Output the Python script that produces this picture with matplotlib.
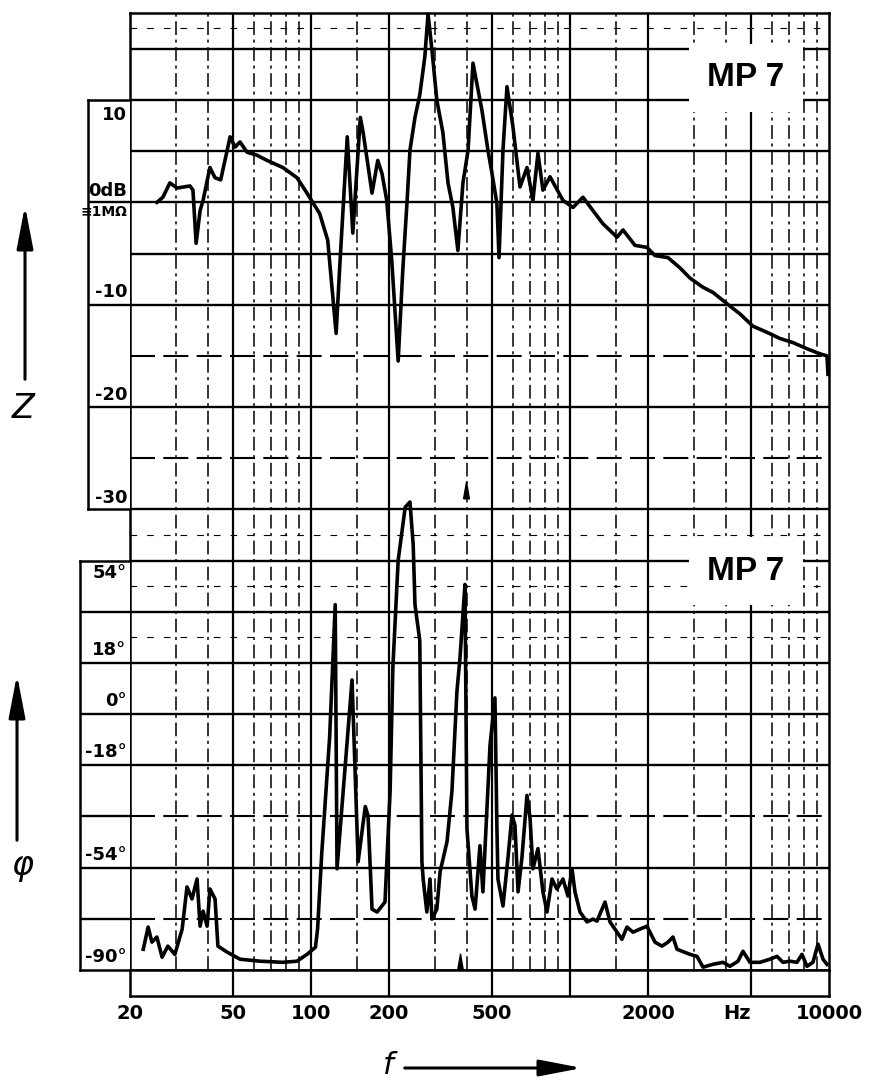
import matplotlib
matplotlib.use("Agg")
import matplotlib.pyplot as plt
from matplotlib.patches import FancyArrowPatch
from matplotlib.path import Path


# Impedanz |Z| in dB (0 dB = 1 MOhm)
z_freq = [25.4, 26.8, 28.5, 30.4, 34.1, 35.0, 36.0, 37.3, 38.3, 40.7,
          42.6, 44.8, 48.7, 50.9, 53.2, 56.6, 61.9, 67.6, 77.9, 88.3,
          96.5, 108, 116, 125, 129, 138, 145, 155, 159, 172,
          181, 188, 196, 205, 217, 226, 235, 241, 252, 263,
          275, 283, 293, 306, 323, 338, 353, 369, 386, 404,
          422, 457, 482, 500, 522, 532, 551, 571, 602, 641,
          682, 719, 752, 786, 837, 939, 1027, 1122, 1226, 1341,
          1519, 1602, 1782, 1982, 2128, 2390, 2658, 2906, 3262, 3565,
          4036, 4532, 5087, 5763, 6466, 7257, 8222, 9230, 9822, 9910]
z_db = [0.0, 0.5, 1.9, 1.4, 1.6, 1.2, -4.0, -0.8, 0.2, 3.4,
        2.4, 2.2, 6.4, 5.4, 5.9, 4.9, 4.6, 4.1, 3.4, 2.4,
        0.9, -1.1, -3.7, -12.8, -6.4, 6.4, -3.0, 8.3, 6.8, 0.9,
        4.1, 2.8, 0.2, -5.7, -15.5, -6.7, 0.2, 5.1, 8.3, 10.5,
        14.2, 18.4, 14.9, 10.0, 6.8, 1.9, -0.5, -4.7, 1.9, 5.1,
        13.6, 9.0, 5.1, 2.8, -0.1, -5.4, 5.1, 11.3, 7.4, 1.5,
        3.4, 0.2, 4.8, 1.2, 2.5, 0.2, -0.5, 0.5, -0.8, -2.1,
        -3.4, -2.7, -4.2, -4.4, -5.2, -5.4, -6.4, -7.4, -8.3, -8.8,
        -9.9, -10.9, -12.1, -12.7, -13.3, -13.7, -14.3, -14.8, -15.0, -16.8]

# Phase in Grad
p_freq = [22.5, 23.5, 24.3, 25.4, 26.6, 28.0, 29.8, 31.8, 33.2, 34.7,
          36.3, 37.3, 38.3, 39.7, 40.7, 42.6, 43.7, 47.4, 53.2, 63.5,
          77.9, 88.3, 96.5, 104, 106, 110, 118, 124, 126, 144,
          152, 162, 166, 172, 180, 193, 202, 207, 217, 231,
          241, 248, 252, 259, 263, 268, 271, 280, 288, 293,
          306, 315, 335, 350, 366, 376, 386, 393, 400, 418,
          430, 449, 461, 491, 513, 522, 527, 551, 576, 597,
          613, 630, 652, 682, 701, 719, 752, 786, 815, 852,
          890, 939, 982, 1018, 1045, 1093, 1163, 1226, 1271, 1365,
          1427, 1519, 1587, 1659, 1751, 1863, 1982, 2128, 2266, 2390,
          2498, 2588, 2906, 3092, 3262, 3565, 3896, 4146, 4452, 4655,
          4953, 5413, 5916, 6297, 6640, 7068, 7522, 7864, 8222, 8672,
          9068, 9481, 9822]
p_deg = [-82.7, -74.9, -80.2, -78.4, -85.5, -81.6, -84.5, -75.6, -60.8, -65.0,
         -58.0, -74.6, -69.3, -74.6, -61.5, -65.0, -81.6, -83.7, -86.2, -86.9,
         -87.3, -86.9, -84.5, -82.0, -75.6, -49.0, -8.0, 38.5, -54.4, 12.0,
         -51.9, -32.5, -35.7, -68.6, -69.6, -66.1, -27.2, 16.3, 54.1, 72.8,
         74.6, 59.7, 38.5, 30.4, 25.8, -51.9, -58.0, -69.6, -58.0, -72.1,
         -68.6, -55.5, -44.9, -27.2, 8.1, 19.8, 35.0, 45.6, -40.3, -64.0,
         -68.6, -46.3, -62.5, -11.0, 5.7, -39.6, -58.0, -67.5, -50.6, -35.5,
         -39.1, -62.5, -50.6, -28.6, -36.7, -54.4, -47.3, -62.5, -69.6, -58.0,
         -61.5, -58.0, -64.0, -54.4, -62.5, -69.6, -73.1, -72.1, -72.8, -66.1,
         -73.1, -76.7, -79.2, -74.9, -76.7, -75.6, -74.6, -80.2, -81.6, -80.2,
         -78.4, -82.7, -84.5, -85.2, -89.0, -88.0, -87.3, -88.7, -86.9, -83.4,
         -87.3, -87.3, -86.2, -85.2, -87.3, -86.9, -87.3, -84.5, -88.7, -87.3,
         -80.9, -86.2, -88.0]

# kleine Dreiecksmarken auf dem Schreiberpapier
mark_freq = [396, 376]
mark_db = [-28.1, -74.2]

x_tick_freq = [20, 50, 100, 200, 500, 2000, 4400, 10000]
x_tick_labels = ["20", "50", "100", "200", "500", "2000", "Hz", "10000"]

z_label_text = ["10", "0dB", "≡1MΩ", "-10", "-20", "-30"]
z_label_db = [8.5, 1.1, -0.9, -8.75, -18.8, -28.9]
p_label_text = ["54°", "18°", "0°", "-18°", "-54°", "-90°"]
p_label_deg = [49.8, 22.6, 4.6, -13.4, -49.4, -85.6]

W, H = 878, 1084
AX_L, AX_R, AX_T, AX_B = 130, 829, 13, 970
DB_MIN, DB_MAX = -75.0, 18.5

MAJOR_F = [50, 100, 200, 500, 1000, 2000, 5000]
MINOR_F = [30, 40, 60, 70, 80, 90, 150, 300, 400, 600, 700, 800, 900,
           1500, 3000, 4000, 6000, 7000, 8000, 9000]
H_SOLID = [15, 10, 5, 0, -5, -10, -20, -30, -35, -40, -45, -50, -55, -65]
H_DASH = [-15, -25, -60, -70]
H_FINE = [17, -32.5, -37.5, -42.5]

NUM_FONT = dict(family="DejaVu Sans", weight="bold")
DASHDOT = (0, (9, 3, 2, 3))


def fx(px):
    return px / W


def fy(py):
    return 1 - py / H


def y_of_db(db):
    return AX_B - (db - DB_MIN) * (AX_B - AX_T) / (DB_MAX - DB_MIN)


def deg_to_db(deg):
    return deg / 3.6 - 50


fig = plt.figure(figsize=(W / 100, H / 100), dpi=100)
fig.patch.set_facecolor("white")

ax = fig.add_axes([fx(AX_L), fy(AX_B), (AX_R - AX_L) / W, (AX_B - AX_T) / H])
ax.set_xscale("log")
ax.set_xlim(20, 10000)
ax.set_ylim(DB_MIN, DB_MAX)
ax.tick_params(which="both", bottom=False, left=False, labelbottom=False, labelleft=False)
for s in ax.spines.values():
    s.set_linewidth(1.8)

for f in MAJOR_F:
    ax.axvline(f, color="k", lw=1.6, zorder=1)
for f in MINOR_F:
    ax.axvline(f, color="k", lw=1.1, ls=DASHDOT, zorder=1)
for d in H_SOLID:
    ax.axhline(d, color="k", lw=1.7, zorder=1)
for d in H_DASH:
    ax.axhline(d, color="k", lw=1.5, ls=(0, (12, 4)), zorder=1)
for d in H_FINE:
    ax.axhline(d, color="k", lw=0.8, ls=(0, (6, 9)), zorder=1)

ax.plot(z_freq, z_db, color="k", lw=2.6, solid_joinstyle="round", zorder=3, clip_on=False)

tri = Path([(-0.35, -1), (0.35, -1), (0, 1), (-0.35, -1)])
ax.plot(mark_freq, mark_db, ls="none", marker=tri, ms=12, color="k", zorder=3)

ax2 = ax.twinx()
ax2.set_ylim((DB_MIN + 50) * 3.6, (DB_MAX + 50) * 3.6)
ax2.axis("off")
ax2.plot(p_freq, p_deg, color="k", lw=2.6, solid_joinstyle="round", zorder=3)

# Beschriftungskasten fuer Z
zb_top, zb_bot = y_of_db(10), y_of_db(-30)
zbox = fig.add_axes([fx(88), fy(zb_bot), (AX_L - 88) / W, (zb_bot - zb_top) / H])
zbox.set_xlim(0, 1)
zbox.set_ylim(-30, 10)
zbox.set_xticks([])
zbox.set_yticks([])
zbox.spines["right"].set_visible(False)
for s in ("left", "top", "bottom"):
    zbox.spines[s].set_linewidth(1.8)
for d in (-20, -10, 0):
    zbox.axhline(d, color="k", lw=1.7)
for txt, d in zip(z_label_text, z_label_db):
    small = txt.startswith("≡")
    zbox.text(0.93, d, txt, ha="right", va="center",
              fontsize=10 if small else 13, **NUM_FONT)

# Beschriftungskasten fuer Phase
pb_top, pb_bot = y_of_db(deg_to_db(54)), y_of_db(deg_to_db(-90))
pbox = fig.add_axes([fx(80), fy(pb_bot), (AX_L - 80) / W, (pb_bot - pb_top) / H])
pbox.set_xlim(0, 1)
pbox.set_ylim(-90, 54)
pbox.set_xticks([])
pbox.set_yticks([])
pbox.spines["right"].set_visible(False)
for s in ("left", "top", "bottom"):
    pbox.spines[s].set_linewidth(1.8)
for d in (36, 18, 0, -18, -36, -54, -72):
    pbox.axhline(d, color="k", lw=1.7)
for txt, d in zip(p_label_text, p_label_deg):
    pbox.text(0.93, d, txt, ha="right", va="center", fontsize=13, **NUM_FONT)

# Frequenzleiste unten
sx = fig.add_axes([fx(AX_L), fy(996), (AX_R - AX_L) / W, (996 - AX_B) / H])
sx.set_xscale("log")
sx.set_xlim(20, 10000)
sx.set_ylim(0, 1)
sx.set_yticks([])
sx.xaxis.set_minor_locator(matplotlib.ticker.NullLocator())
sx.set_xticks(x_tick_freq)
sx.set_xticklabels(x_tick_labels, fontsize=14, **NUM_FONT)
sx.tick_params(axis="x", length=0, pad=6)
for s in sx.spines.values():
    s.set_linewidth(1.8)
for f in MAJOR_F:
    sx.axvline(f, color="k", lw=1.6)

# Kennzeichnung
for ytxt in (78, 571):
    fig.text(fx(746), fy(ytxt), "MP 7", ha="center", va="center", fontsize=24,
             family="Liberation Sans", weight="bold", zorder=10,
             bbox=dict(boxstyle="square,pad=0.55", fc="white", ec="none"))

fig.text(fx(23), fy(408), "Z", ha="center", va="center", fontsize=24,
         family="DejaVu Sans", style="italic")
fig.text(fx(22), fy(866), "φ", ha="center", va="center", fontsize=24,
         family="DejaVu Sans", style="italic")
fig.text(fx(388), fy(1066), "f", ha="center", va="center", fontsize=22,
         family="DejaVu Sans", style="italic")

arrow_kw = dict(transform=fig.transFigure, color="k", lw=2.2,
                arrowstyle="-|>,head_length=1.3,head_width=0.25", mutation_scale=20)
fig.add_artist(FancyArrowPatch((fx(25), fy(382)), (fx(25), fy(203)), **arrow_kw))
fig.add_artist(FancyArrowPatch((fx(17), fy(843)), (fx(17), fy(672)), **arrow_kw))
fig.add_artist(FancyArrowPatch((fx(402), fy(1068)), (fx(585), fy(1068)), **arrow_kw))

fig.savefig("out.png", dpi=100)
